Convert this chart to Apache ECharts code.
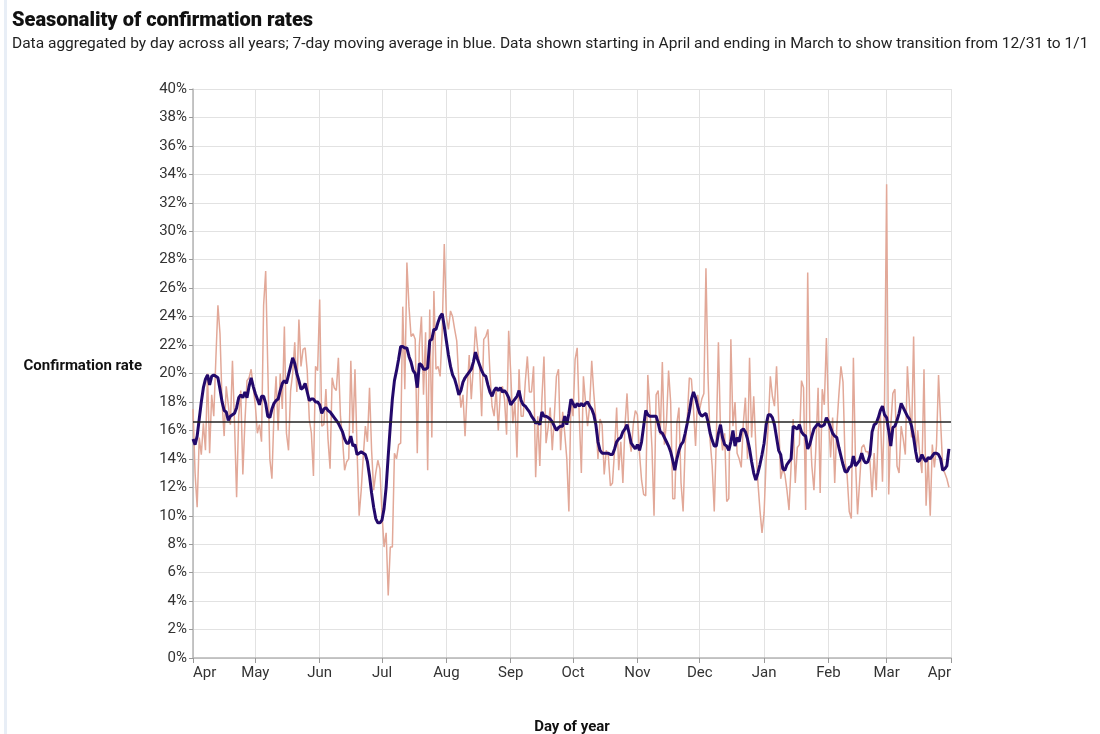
<!DOCTYPE html>
<html>
<head>
<meta charset="utf-8">
<title>Seasonality of confirmation rates</title>
<script src="https://cdn.jsdelivr.net/npm/echarts@6/dist/echarts.min.js"></script>
<style>
  html, body { margin: 0; padding: 0; background: #fff; }
  #chart { width: 1100px; height: 734px; }
</style>
</head>
<body>
<div id="chart"></div>
<script>
// month ticks: day offset from Apr 1 and their labels
var monthStarts = [0, 30, 61, 91, 122, 153, 183, 214, 244, 275, 306, 334, 365];
var monthLabels = ['Apr', 'May', 'Jun', 'Jul', 'Aug', 'Sep', 'Oct', 'Nov', 'Dec', 'Jan', 'Feb', 'Mar', 'Apr'];

// overall average (black line)
var meanRate = 16.6;

// daily confirmation rate, %, Apr 1 .. Mar 31
var dailyRate = [
  17.5, 13.0, 10.6, 15.5, 14.3, 16.5, 14.6, 20.0, 14.4, 18.5,
  17.0, 21.0, 24.8, 22.8, 18.0, 15.6, 19.1, 17.8, 16.4, 20.9,
  16.5, 11.3, 17.0, 18.8, 12.9, 16.6, 19.5, 19.7, 20.3, 19.0,
  17.8, 15.8, 16.4, 15.2, 24.8, 27.2, 20.5, 14.0, 12.6, 17.2,
  19.8, 16.0, 20.0, 17.5, 23.3, 15.8, 14.6, 18.8, 20.0, 22.2,
  18.7, 23.8, 20.5, 21.7, 21.8, 20.2, 16.8, 15.8, 12.8, 20.5,
  20.2, 25.2, 16.3, 16.4, 18.9, 15.4, 13.3, 19.7, 19.0, 18.8,
  21.1, 17.0, 15.4, 13.2, 13.8, 14.0, 20.9, 15.8, 20.3, 14.6,
  10.0, 11.8, 14.2, 16.3, 15.2, 19.0, 14.6, 11.8, 13.0, 13.9,
  13.3, 10.2, 7.8, 8.8, 4.4, 7.8, 7.8, 14.4, 14.0, 15.0,
  15.1, 24.7, 18.9, 27.8, 24.7, 22.6, 22.8, 22.4, 14.4, 22.0,
  24.0, 18.5, 22.9, 13.2, 24.5, 15.5, 25.8, 20.3, 20.5, 19.8,
  23.0, 29.1, 24.0, 23.1, 24.4, 24.0, 23.1, 22.3, 19.5, 17.6,
  18.5, 15.6, 18.7, 21.3, 18.2, 20.5, 23.3, 21.8, 20.5, 17.0,
  22.4, 22.6, 23.1, 20.0, 17.7, 17.0, 18.9, 16.0, 18.7, 19.1,
  18.2, 15.7, 23.0, 20.0, 16.5, 18.0, 14.1, 20.3, 17.0, 17.0,
  19.4, 21.2, 18.7, 18.7, 20.5, 12.7, 17.0, 13.5, 18.2, 21.2,
  15.1, 16.2, 17.6, 14.6, 17.0, 19.8, 20.3, 14.6, 17.3, 15.8,
  14.0, 10.3, 18.2, 17.0, 21.0, 21.8, 17.0, 13.0, 19.8, 18.0,
  16.3, 17.7, 20.9, 18.6, 16.8, 14.0, 16.8, 16.4, 12.9, 14.6,
  14.2, 12.1, 12.3, 14.6, 17.6, 13.2, 15.2, 12.3, 16.3, 18.6,
  15.5, 14.5, 16.4, 17.4, 17.1, 14.4, 12.5, 11.5, 11.4, 19.9,
  17.6, 14.8, 10.0, 18.5, 18.8, 15.7, 20.8, 15.0, 16.6, 20.2,
  18.0, 11.2, 11.2, 16.5, 17.6, 12.3, 10.3, 15.0, 16.8, 19.7,
  19.6, 17.5, 14.9, 18.5, 17.5, 18.2, 18.6, 27.4, 19.8, 15.3,
  13.5, 10.3, 15.5, 22.2, 16.0, 14.6, 15.8, 11.0, 11.2, 22.4,
  16.3, 18.0, 14.4, 14.0, 13.4, 16.5, 18.3, 14.0, 21.1, 15.5,
  18.4, 15.0, 12.4, 10.4, 8.8, 10.2, 14.0, 16.3, 19.8, 18.4,
  17.7, 20.5, 16.8, 12.6, 13.3, 12.9, 11.8, 10.4, 13.5, 16.8,
  12.3, 14.8, 15.0, 19.5, 19.0, 10.4, 27.1, 16.5, 13.5, 11.8,
  15.0, 19.0, 11.6, 18.9, 17.8, 22.5, 17.2, 14.1, 16.9, 12.3,
  16.2, 18.5, 20.5, 19.4, 13.8, 12.8, 10.3, 9.8, 21.1, 13.9,
  10.1, 12.4, 14.8, 15.0, 14.5, 14.5, 13.8, 11.3, 14.4, 11.8,
  16.0, 17.2, 12.4, 18.2, 33.3, 11.5, 16.3, 18.6, 18.9, 13.5,
  13.0, 16.3, 15.4, 14.3, 20.5, 17.8, 15.5, 22.6, 14.0, 16.0,
  14.2, 13.0, 20.3, 10.7, 14.1, 10.0, 15.0, 13.4, 14.9, 19.9,
  16.6, 13.4, 13.0, 12.6, 12.0
];

// 7-day moving average, %
var movingAvg = [
  15.4, 15.0, 15.6, 16.8, 18.0, 19.0, 19.6, 19.9, 19.2, 19.8,
  19.9, 19.8, 19.7, 18.9, 18.0, 17.4, 17.3, 16.7, 17.0, 17.1,
  17.2, 17.6, 18.3, 18.5, 18.3, 18.7, 18.3, 19.1, 19.7, 19.1,
  18.6, 18.2, 17.8, 18.4, 18.4, 17.9, 17.0, 16.9, 17.5, 17.9,
  18.1, 18.2, 18.8, 19.3, 19.5, 19.3, 19.9, 20.5, 21.1, 20.7,
  20.0, 19.5, 18.9, 19.0, 19.3, 18.7, 18.1, 18.2, 18.2, 18.0,
  18.0, 17.8, 17.2, 17.5, 17.6, 17.4, 17.3, 17.1, 16.9, 16.7,
  16.5, 16.2, 15.9, 15.4, 15.1, 15.1, 15.6, 14.9, 15.0, 14.3,
  14.4, 14.5, 14.4, 14.3, 13.8, 12.8, 11.6, 10.6, 9.8, 9.5,
  9.5, 9.7, 10.5, 12.0, 14.2, 16.3, 18.2, 19.5, 20.2, 21.0,
  21.9, 21.9, 21.8, 21.8, 21.2, 20.8, 20.2, 20.0, 19.0, 20.7,
  20.6, 20.3, 20.3, 20.4, 22.3, 22.4, 23.1, 23.1, 23.6, 24.0,
  24.2, 23.3, 22.3, 21.3, 20.5, 19.9, 19.6, 19.1, 18.5, 18.8,
  19.4, 19.7, 19.9, 20.1, 20.3, 20.8, 21.5, 21.0, 20.6, 20.2,
  19.9, 19.8, 19.2, 18.7, 18.4, 18.8, 19.0, 18.8, 19.0, 18.7,
  18.8, 18.6, 18.3, 17.8, 18.0, 18.2, 18.4, 18.8, 18.1, 17.8,
  17.7, 17.5, 17.3, 17.0, 16.8, 16.5, 16.6, 16.4, 17.3, 17.0,
  17.0, 16.9, 16.8, 16.6, 16.3, 16.0, 16.2, 16.3, 16.3, 17.0,
  16.4, 17.2, 18.2, 17.9, 17.6, 17.9, 17.7, 17.9, 17.7, 17.9,
  18.0, 17.7, 17.5, 17.1, 16.4, 15.2, 14.6, 14.4, 14.4, 14.4,
  14.4, 14.3, 14.3, 14.7, 15.2, 15.4, 15.5, 15.9, 16.1, 16.4,
  15.8, 15.1, 14.9, 14.7, 15.0, 14.6, 15.2, 16.3, 17.4, 17.1,
  17.0, 17.0, 17.0, 17.0, 16.5, 15.9, 15.8, 15.5, 15.2, 14.9,
  14.5, 13.9, 13.2, 14.0, 14.6, 15.0, 15.2, 15.8, 16.5, 17.3,
  18.2, 18.7, 18.3, 17.7, 17.2, 17.0, 17.1, 17.2, 16.6, 15.8,
  15.3, 14.9, 14.9, 15.8, 16.4, 15.5, 15.0, 14.9, 14.6, 15.2,
  16.0, 14.9, 15.5, 15.2, 16.0, 16.1, 15.9, 15.4, 14.7, 13.8,
  13.0, 12.5, 13.0, 13.6, 14.3, 15.1, 16.4, 17.1, 17.1, 16.9,
  16.4, 15.5, 14.6, 14.3, 13.3, 13.2, 13.6, 13.8, 14.0, 16.3,
  16.2, 16.1, 16.4, 15.9, 15.7, 15.6, 14.7, 15.0, 15.6, 16.1,
  16.3, 16.5, 16.3, 16.3, 16.4, 16.9, 16.6, 16.2, 15.8, 15.6,
  15.5, 14.8, 14.2, 13.6, 13.1, 13.1, 13.4, 13.5, 14.2, 13.5,
  13.7, 13.9, 14.4, 13.9, 13.7, 13.8, 14.3, 15.9, 16.4, 16.5,
  16.9, 17.4, 17.7, 17.1, 16.9, 16.0, 14.9, 16.2, 16.3, 16.7,
  17.2, 17.9, 17.6, 17.3, 17.0, 16.8, 16.3, 15.5, 14.5, 13.8,
  13.9, 14.3, 14.0, 13.8, 14.1, 14.0, 14.2, 14.4, 14.4, 14.3,
  14.0, 13.2, 13.3, 13.5, 14.7
];

// one category per day, Apr 1 through the next Apr 1
var days = [];
for (var i = 0; i <= monthStarts[monthStarts.length - 1]; i++) {
  days.push(i);
}

function isMonthStart(index) {
  return monthStarts.indexOf(index) >= 0;
}

var chart = echarts.init(document.getElementById('chart'));

var option = {
  animation: false,
  textStyle: { fontFamily: 'Roboto, sans-serif' },
  title: {
    text: 'Seasonality of confirmation rates',
    subtext: 'Data aggregated by day across all years; 7-day moving average in blue. Data shown starting in April and ending in March to show transition from 12/31 to 1/1',
    left: 7,
    top: 6,
    itemGap: 5,
    textStyle: { fontSize: 20, fontWeight: 900, color: '#111', fontFamily: 'Roboto, sans-serif' },
    subtextStyle: { fontSize: 15.5, color: '#222', fontFamily: 'Roboto, sans-serif' },
  },
  graphic: [
    {
      type: 'rect',
      left: 4,
      top: 0,
      shape: { width: 3, height: 734 },
      style: { fill: '#e8eef6' },
      silent: true,
    },
  ],
  grid: { left: 193, right: 149, top: 89, bottom: 76, outerBoundsMode: 'none' },
  xAxis: {
    type: 'category',
    data: days,
    boundaryGap: false,
    name: 'Day of year',
    nameLocation: 'middle',
    nameGap: 62,
    nameTextStyle: { fontSize: 15, fontWeight: 'bold', color: '#111' },
    axisLine: { lineStyle: { color: '#b5b5b5', width: 1.5 } },
    axisTick: { interval: isMonthStart, length: 5, lineStyle: { color: '#999' } },
    axisLabel: {
      interval: isMonthStart,
      formatter: function(value, index) {
        return monthLabels[monthStarts.indexOf(index)];
      },
      fontSize: 15,
      color: '#333',
      margin: 8,
      alignMinLabel: 'left',
      alignMaxLabel: 'right',
    },
    splitLine: { show: true, interval: isMonthStart, lineStyle: { color: '#e2e2e2' } },
  },
  yAxis: {
    type: 'value',
    min: 0,
    max: 40,
    interval: 2,
    name: 'Confirmation rate',
    nameLocation: 'middle',
    nameRotate: 0,
    nameGap: 51,
    nameTextStyle: { fontSize: 15, fontWeight: 'bold', color: '#111', align: 'right', verticalAlign: 'bottom' },
    axisLine: { show: true, lineStyle: { color: '#b5b5b5', width: 1.5 } },
    axisTick: { show: true, length: 4, lineStyle: { color: '#999' } },
    axisLabel: { formatter: '{value}%', fontSize: 15, color: '#333', margin: 6 },
    splitLine: { lineStyle: { color: '#e2e2e2' } },
  },
  series: [
    {
      name: 'Daily',
      type: 'line',
      data: dailyRate,
      symbol: 'none',
      lineStyle: { color: '#e2a898', width: 1.5 },
      z: 2,
      markLine: {
        silent: true,
        symbol: 'none',
        label: { show: false },
        lineStyle: { color: '#222', width: 1.5, type: 'solid' },
        data: [{ yAxis: meanRate }],
      },
    },
    {
      name: '7-day average',
      type: 'line',
      data: movingAvg,
      symbol: 'none',
      lineStyle: { color: '#23096b', width: 3 },
      z: 3,
    },
  ],
};

chart.setOption(option);
</script>
</body>
</html>
